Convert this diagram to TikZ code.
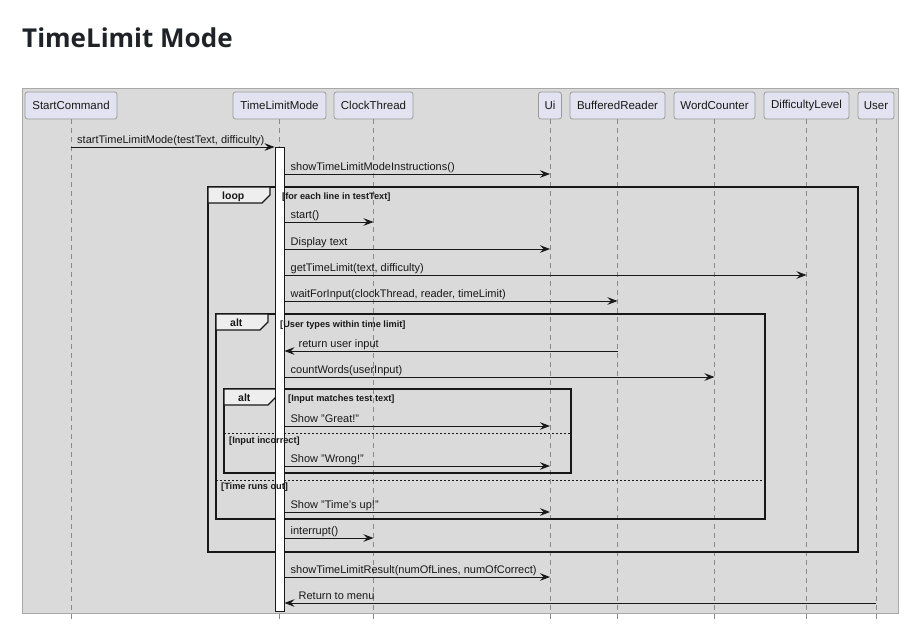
\documentclass[tikz,border=0pt]{standalone}
\usepackage{fontspec}
\setmainfont{Liberation Sans}
\newfontfamily\titlefont{Open Sans}
\usetikzlibrary{arrows.meta,calc}
\definecolor{bgcol}{HTML}{DADADA}
\definecolor{bgborder}{HTML}{A8A8A8}
\definecolor{partfill}{HTML}{E2E2F0}
\definecolor{partborder}{HTML}{9A9A9A}
\definecolor{lifecol}{HTML}{8A8A8A}
\definecolor{tabfill}{HTML}{EEEEEE}
\definecolor{titlecol}{HTML}{1F2328}
\definecolor{ink}{HTML}{181818}
\tikzset{
  part/.style={draw=partborder, fill=partfill, rounded corners=2.5pt, minimum height=27pt, inner sep=0pt, line width=0.8pt, font=\fontsize{11.5}{13}\selectfont, text=ink},
  lifeline/.style={draw=lifecol, line width=0.8pt, dash pattern=on 5pt off 4pt},
  msg/.style={draw=ink, line width=0.9pt, -{Stealth[length=10pt,width=7.5pt,inset=3.5pt]}},
  lbl/.style={anchor=base west, inner sep=0pt, font=\fontsize{11}{13}\selectfont, text=ink},
  guard/.style={anchor=base west, inner sep=0pt, font=\bfseries\fontsize{9.2}{11}\selectfont, text=ink},
  tabtxt/.style={anchor=base west, inner sep=0pt, font=\bfseries\fontsize{10.5}{12}\selectfont, text=ink},
  frame/.style={draw=ink, line width=1.5pt},
  tab/.style={draw=ink, line width=1.2pt, fill=tabfill},
  sep/.style={draw=ink, line width=0.8pt, dash pattern=on 2pt off 2pt}
}
\begin{document}
\begin{tikzpicture}[x=1pt,y=-1pt]
\useasboundingbox (0,0) rectangle (917,626);
\fill[white] (0,0) rectangle (917,626);
\node[anchor=base west, inner sep=0pt, font=\titlefont\bfseries\fontsize{26}{30}\selectfont, text=titlecol] (title) at (22,48) {TimeLimit Mode};
\path[fill=bgcol, draw=bgborder, line width=1pt] (22,88) rectangle (898,613);
% participants
\node[part, minimum width=92pt] (sc) at (71,105.5) {StartCommand};
\node[part, minimum width=93pt] (tlm) at (279.5,105.5) {TimeLimitMode};
\node[part, minimum width=79pt] (ct) at (373.5,105.5) {ClockThread};
\node[part, minimum width=23pt] (ui) at (550,105.5) {Ui};
\node[part, minimum width=95pt] (br) at (617.5,105.5) {BufferedReader};
\node[part, minimum width=81pt] (wc) at (714.5,105.5) {WordCounter};
\node[part, minimum width=85pt] (dl) at (806.5,105.5) {DifficultyLevel};
\node[part, minimum width=36pt] (us) at (876,105.5) {User};
\coordinate (bot) at (0,619);
\foreach \p in {sc,tlm,ct,ui,br,wc,dl,us}{
  \draw[lifeline] (\p.south) -- (\p.south |- bot);
}
% frames
\draw[frame] (208,187) rectangle (858,552);
\draw[tab] (208,187) -- (270,187) -- (270,195) -- (262,203) -- (208,203) -- cycle;
\node[tabtxt] (loopl) at (222,199) {loop};
\draw[frame] (216,314) rectangle (765,519);
\draw[tab] (216,314) -- (268,314) -- (268,322) -- (260,330) -- (216,330) -- cycle;
\node[tabtxt] (alt1l) at (230,326.5) {alt};
\draw[sep] (216,480) -- (765,480);
\draw[frame] (224,389) rectangle (571,473);
\draw[tab] (224,389) -- (276,389) -- (276,397) -- (268,405) -- (224,405) -- cycle;
\node[tabtxt] (alt2l) at (238,401.5) {alt};
\draw[sep] (224,433) -- (571,433);
% activation bar
\node[draw=ink, fill=white, line width=0.9pt, minimum width=9pt, minimum height=464pt, inner sep=0pt, anchor=north] (bar) at (279.5,147) {};
% guards (over the bar)
\node[guard] (loopg) at (282,199) {[for each line in testText]};
\node[guard] (alt1g) at (280,327) {[User types within time limit]};
\node[guard] (alt1g2) at (221,489.5) {[Time runs out]};
\node[guard] (alt2g) at (288,401.5) {[Input matches test text]};
\node[guard] (alt2g2) at (229,443) {[Input incorrect]};
% message rows
\coordinate (r1) at (0,147);
\coordinate (r2) at (0,174);
\coordinate (r3) at (0,222);
\coordinate (r4) at (0,249);
\coordinate (r5) at (0,275);
\coordinate (r6) at (0,301);
\coordinate (r7) at (0,351);
\coordinate (r8) at (0,377);
\coordinate (r9) at (0,426);
\coordinate (r10) at (0,466);
\coordinate (r11) at (0,512);
\coordinate (r12) at (0,538);
\coordinate (r13) at (0,577);
\coordinate (r14) at (0,603);
\draw[msg] (sc |- r1) -- (bar.west |- r1);
\node[lbl] at ($(sc |- r1)+(6,-4)$) {startTimeLimitMode(testText, difficulty)};
\draw[msg] (bar.east |- r2) -- (ui |- r2);
\node[lbl] at ($(bar.east |- r2)+(6,-4)$) {showTimeLimitModeInstructions()};
\draw[msg] (bar.east |- r3) -- (ct |- r3);
\node[lbl] at ($(bar.east |- r3)+(6,-4)$) {start()};
\draw[msg] (bar.east |- r4) -- (ui |- r4);
\node[lbl] at ($(bar.east |- r4)+(6,-4)$) {Display text};
\draw[msg] (bar.east |- r5) -- (dl |- r5);
\node[lbl] at ($(bar.east |- r5)+(6,-4)$) {getTimeLimit(text, difficulty)};
\draw[msg] (bar.east |- r6) -- (br |- r6);
\node[lbl] at ($(bar.east |- r6)+(6,-4)$) {waitForInput(clockThread, reader, timeLimit)};
\draw[msg] (br |- r7) -- (bar.east |- r7);
\node[lbl] at ($(bar.east |- r7)+(14,-4)$) {return user input};
\draw[msg] (bar.east |- r8) -- (wc |- r8);
\node[lbl] at ($(bar.east |- r8)+(6,-4)$) {countWords(userInput)};
\draw[msg] (bar.east |- r9) -- (ui |- r9);
\node[lbl] at ($(bar.east |- r9)+(6,-4)$) {Show "Great!"};
\draw[msg] (bar.east |- r10) -- (ui |- r10);
\node[lbl] at ($(bar.east |- r10)+(6,-4)$) {Show "Wrong!"};
\draw[msg] (bar.east |- r11) -- (ui |- r11);
\node[lbl] at ($(bar.east |- r11)+(6,-4)$) {Show "Time's up!"};
\draw[msg] (bar.east |- r12) -- (ct |- r12);
\node[lbl] at ($(bar.east |- r12)+(6,-4)$) {interrupt()};
\draw[msg] (bar.east |- r13) -- (ui |- r13);
\node[lbl] at ($(bar.east |- r13)+(6,-4)$) {showTimeLimitResult(numOfLines, numOfCorrect)};
\draw[msg] (us |- r14) -- (bar.east |- r14);
\node[lbl] at ($(bar.east |- r14)+(14,-4)$) {Return to menu};
\end{tikzpicture}
\end{document}
